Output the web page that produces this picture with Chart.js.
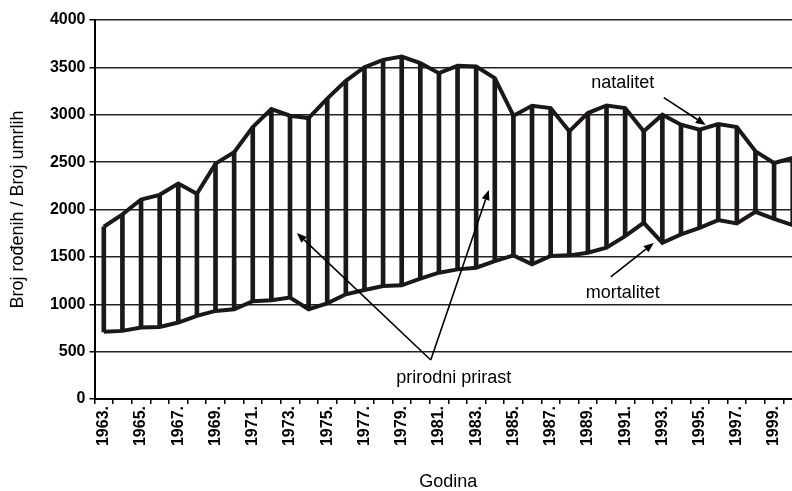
<!DOCTYPE html>
<html>
<head>
<meta charset="utf-8">
<script src="https://cdn.jsdelivr.net/npm/chart.js@4/dist/chart.umd.min.js"></script>
<style>
html, body { margin:0; padding:0; overflow:hidden; background:#fff; width:792px; height:491px; }
#wrap { width:802px; height:491px; position:relative; }
</style>
</head>
<body>
<div id="wrap"><canvas id="c" width="802" height="491"></canvas></div>
<script>
const years = [1963,1964,1965,1966,1967,1968,1969,1970,1971,1972,1973,1974,1975,1976,1977,1978,1979,1980,1981,1982,1983,1984,1985,1986,1987,1988,1989,1990,1991,1992,1993,1994,1995,1996,1997,1998,1999,2000];
const natalitet = [1818,1948,2105,2155,2274,2165,2484,2604,2870,3060,2990,2965,3170,3358,3502,3579,3614,3544,3439,3516,3509,3386,2990,3095,3070,2825,3018,3098,3070,2825,3000,2895,2842,2902,2870,2614,2491,2544];
const mortalitet = [709,719,754,761,807,877,930,947,1032,1042,1070,947,1010,1105,1151,1193,1200,1270,1333,1368,1386,1456,1516,1421,1509,1516,1544,1597,1719,1860,1649,1737,1807,1888,1853,1976,1902,1835];
const yTicks = [0,500,1000,1500,2000,2500,3000,3500,4000];

// annotation anchors in data units [year, value]
const notes = [
  {text:'natalitet', at:[1990.87,3335]},
  {text:'mortalitet', at:[1990.87,1119]},
  {text:'prirodni prirast', at:[1981.8,222]}
];
const arrows = [
  {from:[1993.08,3180], to:[1995.33,2892]},
  {from:[1990.23,1288], to:[1992.54,1646]},
  {from:[1980.56,412], to:[1983.68,2206]},
  {from:[1980.56,412], to:[1973.37,1752]}
];

const INK = '#1c1818';
const FONT = '"Liberation Sans", Arial, sans-serif';

const annotPlugin = {
  id:'annot',
  afterDatasetsDraw(chart){
    const ctx = chart.ctx, xs = chart.scales.x, ys = chart.scales.y;
    const px = p => [xs.getPixelForValue(p[0]-years[0]), ys.getPixelForValue(p[1])];
    ctx.save();
    ctx.fillStyle = '#000';
    ctx.font = '18px ' + FONT;
    ctx.textAlign = 'center';
    ctx.textBaseline = 'middle';
    notes.forEach(n => { const [x,y] = px(n.at); ctx.fillText(n.text, x, y); });
    ctx.strokeStyle = '#000';
    ctx.lineWidth = 1.6;
    arrows.forEach(a => {
      const [x1,y1] = px(a.from), [x2,y2] = px(a.to);
      const ang = Math.atan2(y2-y1, x2-x1);
      const L = 10, W = 4;
      const bx = x2 - L*Math.cos(ang), by = y2 - L*Math.sin(ang);
      ctx.beginPath(); ctx.moveTo(x1,y1); ctx.lineTo(bx,by); ctx.stroke();
      ctx.beginPath();
      ctx.moveTo(x2,y2);
      ctx.lineTo(bx + W*Math.sin(ang), by - W*Math.cos(ang));
      ctx.lineTo(bx - W*Math.sin(ang), by + W*Math.cos(ang));
      ctx.closePath(); ctx.fill();
    });
    ctx.restore();
  }
};

new Chart(document.getElementById('c'), {
  data: {
    labels: years.map(String),
    datasets: [
      { type:'line', label:'natalitet', data: natalitet, borderColor: INK, borderWidth:4, pointRadius:0, tension:0, borderJoinStyle:'miter', order:1 },
      { type:'line', label:'mortalitet', data: mortalitet, borderColor: INK, borderWidth:4, pointRadius:0, tension:0, borderJoinStyle:'miter', order:1 },
      { type:'bar', label:'prirodni prirast', data: years.map((y,i)=>[mortalitet[i], natalitet[i]]), backgroundColor: INK, barThickness:4, order:2 }
    ]
  },
  options: {
    responsive:false,
    animation:false,
    events:[],
    layout:{ padding:{ top:20, right:0, bottom:0, left:0 } },
    plugins:{ legend:{display:false}, tooltip:{enabled:false} },
    scales:{
      x:{
        type:'category',
        offset:true,
        grid:{ offset:true, drawOnChartArea:false, drawTicks:true, tickLength:5, color:'#000', lineWidth:1.5 },
        border:{ display:true, color:'#000', width:2 },
        ticks:{
          autoSkip:false, minRotation:90, maxRotation:90, padding:2, color:'#000',
          font:{ family:FONT, size:16, weight:'bold' },
          callback:(v,i)=> i%2===0 ? years[i]+'.' : ''
        },
        title:{ display:true, text:'Godina', color:'#000', font:{ family:FONT, size:18, lineHeight:1 }, padding:{top:0,bottom:0} },
        afterFit:(s)=>{ s.height = 92; s.paddingLeft = 0; s.paddingRight = 0; }
      },
      y:{
        min:0, max:4000,
        afterBuildTicks:(s)=>{ s.ticks = yTicks.map(v=>({value:v})); },
        grid:{ color:'#222', lineWidth:1.5, drawTicks:true, tickLength:5, tickColor:'#000' },
        border:{ display:true, color:'#000', width:2 },
        ticks:{ color:'#000', padding:4, font:{ family:FONT, size:16, weight:'bold' }, callback:(v)=>String(v) },
        title:{ display:true, text:'Broj rođenih / Broj umrlih', color:'#000', font:{ family:FONT, size:18, lineHeight:1 }, padding:{top:9,bottom:0} },
        afterFit:(s)=>{ s.width = 94.5; s.paddingTop = 0; s.paddingBottom = 0; }
      }
    }
  },
  plugins:[annotPlugin]
});
</script>
</body>
</html>
